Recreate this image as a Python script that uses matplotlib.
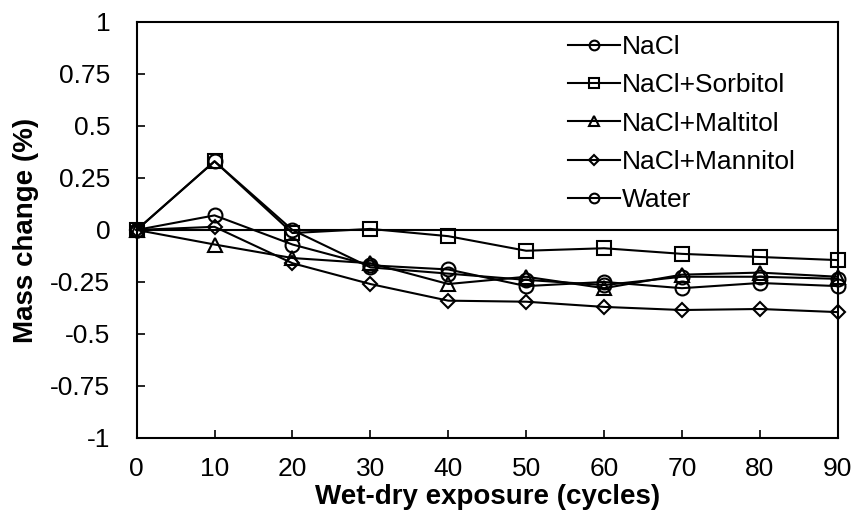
import matplotlib.pyplot as plt

plt.rcParams['font.family'] = ['Liberation Sans', 'DejaVu Sans']

# DATA
cycles = [0, 10, 20, 30, 40, 50, 60, 70, 80, 90]
nacl = [0, 0.07, -0.07, -0.17, -0.19, -0.27, -0.25, -0.28, -0.255, -0.27]
sorbitol = [0, 0.33, -0.015, 0.005, -0.03, -0.10, -0.088, -0.115, -0.13, -0.145]
maltitol = [0, -0.07, -0.135, -0.16, -0.26, -0.225, -0.28, -0.215, -0.205, -0.225]
mannitol = [0, 0.015, -0.16, -0.26, -0.34, -0.345, -0.37, -0.385, -0.38, -0.395]
water = [0, 0.33, 0.0, -0.18, -0.21, -0.24, -0.265, -0.225, -0.225, -0.235]

labels = ['NaCl', 'NaCl+Sorbitol', 'NaCl+Maltitol', 'NaCl+Mannitol', 'Water']
series = [nacl, sorbitol, maltitol, mannitol, water]
markers = ['o', 's', '^', 'D', 'o']
sizes = [10, 10, 10, 7.5, 10]

# PLOT
fig = plt.figure(figsize=(8.54, 5.22), dpi=100)
ax = fig.add_axes([0.160, 0.161, 0.821, 0.797])

ax.axhline(0, color='black', lw=1.5, zorder=1)
for vals, lab, m, s in zip(series, labels, markers, sizes):
    ax.plot(cycles, vals, color='black', lw=1.5, marker=m, markersize=s,
            markerfacecolor='none', markeredgecolor='black', markeredgewidth=1.5,
            label=lab, clip_on=False, zorder=3)

ax.set_xlim(0, 90)
ax.set_ylim(-1, 1)
ax.set_xticks(cycles)
ax.set_yticks([-1, -0.75, -0.5, -0.25, 0, 0.25, 0.5, 0.75, 1])
ax.set_yticklabels(['-1', '-0.75', '-0.5', '-0.25', '0', '0.25', '0.5', '0.75', '1'])
ax.tick_params(direction='in', length=6, width=1.2, labelsize=19)
ax.tick_params(axis='y', pad=19)
ax.tick_params(axis='x', pad=14)
for sp in ax.spines.values():
    sp.set_linewidth(1.5)

ax.set_xlabel('Wet-dry exposure (cycles)', fontsize=20, fontweight='bold', labelpad=2)
ax.set_ylabel('Mass change (%)', fontsize=20, fontweight='bold', labelpad=8)

leg = ax.legend(loc='upper left', frameon=False, fontsize=19, handlelength=2.0,
                handletextpad=0.05, labelspacing=0.54, borderaxespad=0.0, borderpad=0.5,
                bbox_to_anchor=(0.596, 1.0), markerscale=0.7)

plt.savefig('out.png', dpi=100)
